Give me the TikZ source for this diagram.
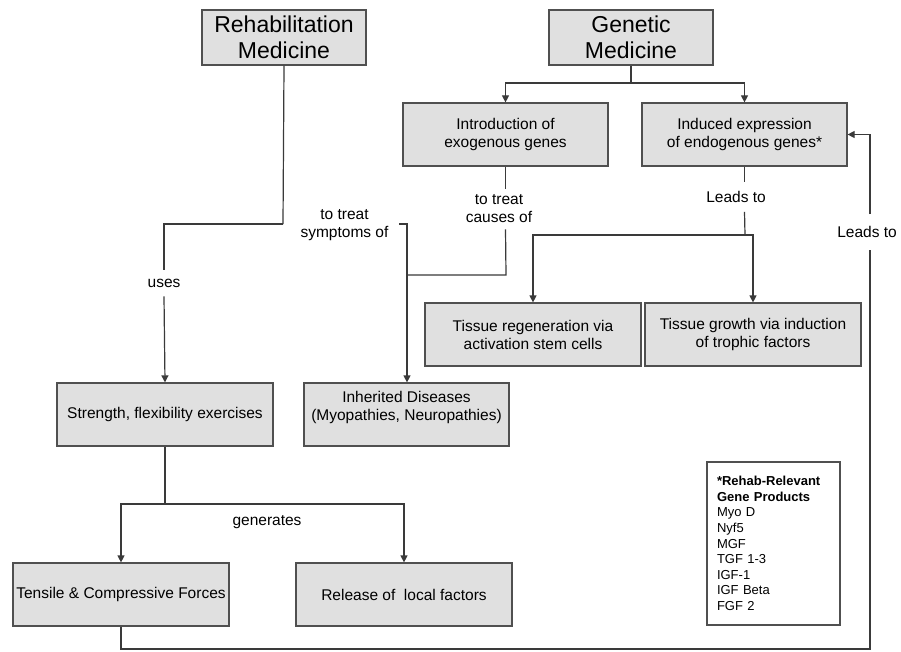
\documentclass[tikz,border=0pt]{standalone}
\usepackage{fontspec}
\setmainfont{Liberation Sans}
\usetikzlibrary{arrows.meta}
\definecolor{boxfill}{HTML}{E0E0E0}
\definecolor{boxline}{HTML}{505050}
\definecolor{linecol}{HTML}{3A3A3A}
\begin{document}
\begin{tikzpicture}[x=1pt,y=-1pt,
  box/.style={draw=boxline, fill=boxfill, line width=1.2pt, align=center, inner sep=2pt,
    font=\fontsize{15.5}{18}\selectfont, minimum height=63pt},
  titlebox/.style={box, font=\fontsize{23}{26.5}\selectfont, minimum width=164pt, minimum height=55pt},
  lbl/.style={align=center, font=\fontsize{15.5}{18}\selectfont, inner xsep=0pt},
  conn/.style={draw=linecol, line width=1.2pt},
  arr/.style={conn, -{Triangle[length=7pt,width=7pt]}}]
\useasboundingbox[fill=white] (0,0) rectangle (901,652);
% boxes
\node[titlebox] (rehab) at (284,37.5) {Rehabilitation\\Medicine};
\node[titlebox] (gen) at (631,37.5) {Genetic\\Medicine};
\node[box, minimum width=205pt] (intro) at (505.5,134.5) {Introduction of\\exogenous genes};
\node[box, minimum width=205pt] (induced) at (744.5,134.5) {Induced expression\\of endogenous genes*};
\node[box, minimum width=216pt] (regen) at (533,334.5) {Tissue regeneration via\\activation stem cells};
\node[box, minimum width=216pt] (growth) at (753,334.5) {Tissue growth via induction\\of trophic factors};
\node[box, minimum width=216pt] (strength) at (165,414.5) {Strength, flexibility exercises};
\node[box, minimum width=205pt] (inherited) at (406.5,414.5) {Inherited Diseases\\(Myopathies, Neuropathies)\\\mbox{}};
\node[box, minimum width=216pt] (tensile) at (121,594.5) {Tensile \& Compressive Forces};
\node[box, minimum width=216pt] (release) at (404,594.5) {Release of~ local factors};
\node[draw=boxline, fill=white, line width=1.2pt, text width=113pt, inner xsep=10pt, inner ysep=0pt,
  minimum height=163pt, align=left, font=\fontsize{13}{15.6}\selectfont] (products) at (773.5,543.5)
  {\textbf{*Rehab-Relevant}\\\textbf{Gene Products}\\Myo D\\Nyf5\\MGF\\TGF 1-3\\IGF-1\\IGF Beta\\FGF 2};
% labels
\node[lbl, inner ysep=7pt] (tsym) at (344.5,225) {to treat\\symptoms of};
\node[lbl, inner ysep=6pt] (tcause) at (499,209) {to treat\\causes of};
\node[lbl, inner ysep=9pt] (uses) at (164,283) {uses};
\node[lbl, inner ysep=9pt] (leads1) at (736,197) {Leads to};
\node[lbl, inner ysep=12pt] (leads2) at (867,232) {Leads to};
\node[lbl] (gener) at (267,522) {generates};
% junctions
\coordinate (gj) at (631,83);
\coordinate (rj) at (283,224);
\coordinate (ts) at (399,224);
\coordinate (cj) at (506,275);
\coordinate (jc) at (407,275);
\coordinate (ij) at (745,235);
\coordinate (sj) at (165,504);
\coordinate (b1) at (121,649);
\coordinate (b2) at (870,649);
% genetic medicine
\draw[conn] (gen.south) -- (gj);
\draw[arr] (gj) -| (intro.north);
\draw[arr] (gj) -| (induced.north);
% rehab medicine
\draw[conn] (rehab.south) -- (rj);
\draw[conn] (rj) -| (uses.north);
\draw[arr] (uses.south) -- (strength.north);
\draw[arr] (ts) -- (407,224) -- (inherited.north -| 407,0);
% exogenous genes
\draw[conn] (intro.south) -- (intro.south |- tcause.north);
\draw[conn] (intro.south |- tcause.south) -- (cj) -- (jc);
% endogenous genes
\draw[conn] (induced.south) -- (induced.south |- leads1.north);
\draw[conn] (induced.south |- leads1.south) -- (ij);
\draw[arr] (ij) -| (regen.north);
\draw[arr] (ij) -| (growth.north);
% exercises
\draw[conn] (strength.south) -- (sj);
\draw[arr] (sj) -| (tensile.north);
\draw[arr] (sj) -| (release.north);
% feedback loop
\draw[conn] (tensile.south) -- (b1) -- (b2) -- (b2 |- leads2.south);
\draw[arr] (b2 |- leads2.north) |- (induced.east);
\end{tikzpicture}
\end{document}
